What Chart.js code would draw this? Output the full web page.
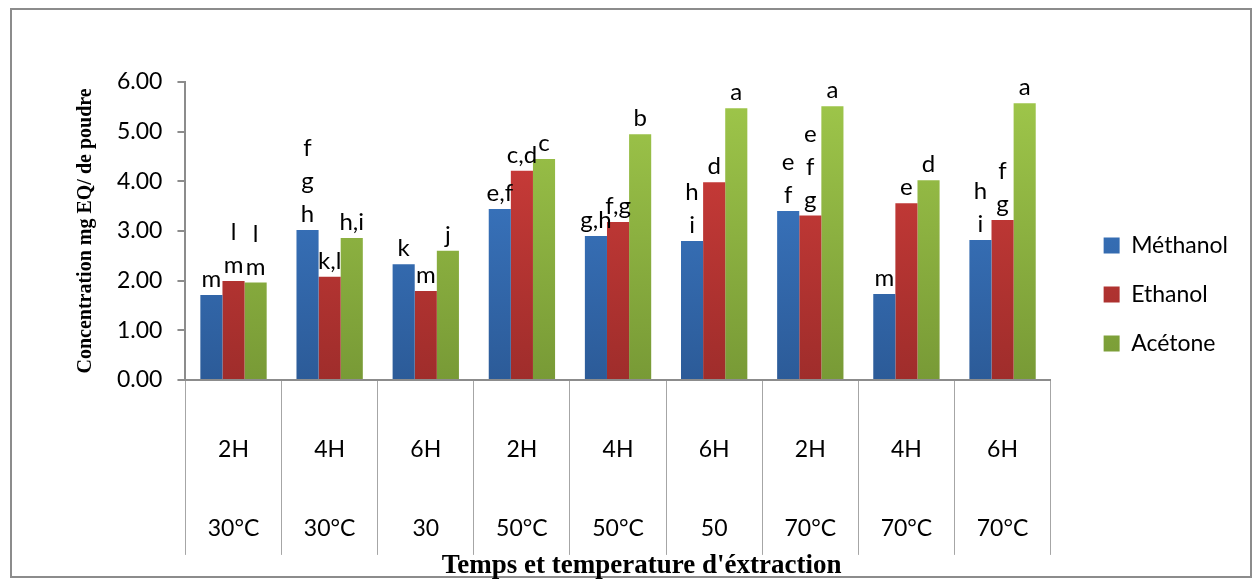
<!DOCTYPE html>
<html>
<head>
<meta charset="utf-8">
<script src="https://cdn.jsdelivr.net/npm/chart.js@4.4.0/dist/chart.umd.min.js"></script>
<style>
  html, body { margin: 0; padding: 0; background: #fff; }
  #wrap { position: relative; width: 1258px; height: 581px; }
</style>
</head>
<body>
<div id="wrap"><canvas id="concChart" width="1258" height="581"></canvas></div>
<script>
const ctx = document.getElementById('concChart');

// categories: time (row 1) and temperature (row 2)
const times = ['2H', '4H', '6H', '2H', '4H', '6H', '2H', '4H', '6H'];
const temps = ['30°C', '30°C', '30', '50°C', '50°C', '50', '70°C', '70°C', '70°C'];

const methanol = [1.71, 3.02, 2.33, 3.44, 2.90, 2.80, 3.40, 1.73, 2.82];
const ethanol  = [1.99, 2.08, 1.79, 4.21, 3.18, 3.98, 3.31, 3.56, 3.22];
const acetone  = [1.96, 2.86, 2.60, 4.45, 4.95, 5.47, 5.51, 4.02, 5.57];

// significance letters (stacked lines separated by \n)
const methanolLetters = ['m', 'f\ng\nh', 'k', 'e,f', 'g,h', 'h\ni', 'e\nf', 'm', 'h\ni'];
const ethanolLetters  = ['l\nm', 'k,l', 'm', 'c,d', 'f,g', 'd', 'e\nf\ng', 'e', 'f\ng'];
const acetoneLetters  = ['l\nm', 'h,i', 'j', 'c', 'b', 'a', 'a', 'd', 'a'];

const yTicks = [0, 1, 2, 3, 4, 5, 6];

const sansFont = 'Lato';
const serifFont = 'Liberation Serif';

function grad(top, bottom) {
    return function (context) {
        const area = context.chart.chartArea;
        if (!area) return top;
        const g = context.chart.ctx.createLinearGradient(0, area.bottom, 0, area.top);
        g.addColorStop(0, bottom);
        g.addColorStop(1, top);
        return g;
    };
}

const letterPlugin = {
    id: 'letters',
    afterDatasetsDraw(chart) {
        const c = chart.ctx;
        const sets = [methanolLetters, ethanolLetters, acetoneLetters];
        c.save();
        c.font = '24px ' + sansFont;
        c.fillStyle = '#000';
        c.textAlign = 'center';
        c.textBaseline = 'alphabetic';
        sets.forEach((letters, i) => {
            const meta = chart.getDatasetMeta(i);
            meta.data.forEach((bar, j) => {
                const lines = letters[j].split('\n');
                let y = bar.y - 8;
                for (let k = lines.length - 1; k >= 0; k--) {
                    c.fillText(lines[k], bar.x, y);
                    y -= 33;
                }
            });
        });
        c.restore();
    }
};

const framePlugin = {
    id: 'frame',
    beforeDraw(chart) {
        const c = chart.ctx;
        c.save();
        c.strokeStyle = '#8c8c8c';
        c.lineWidth = 2;
        c.strokeRect(11, 9, 1240, 568);
        c.restore();
    }
};

new Chart(ctx, {
    type: 'bar',
    data: {
        labels: times.map((t, i) => [t, temps[i]]),
        datasets: [{
            label: 'Méthanol',
            data: methanol,
            backgroundColor: grad('#3f80d0', '#2c5b98')
        }, {
            label: 'Ethanol',
            data: ethanol,
            backgroundColor: grad('#d53f3c', '#9f2d2b')
        }, {
            label: 'Acétone',
            data: acetone,
            backgroundColor: grad('#a0c84b', '#789a36')
        }]
    },
    options: {
        responsive: false,
        animation: false,
        layout: {
            padding: { left: 70, top: 8, right: 20, bottom: 0 }
        },
        datasets: {
            bar: { categoryPercentage: 0.69, barPercentage: 1.0 }
        },
        plugins: {
            // empty title only reserves the white band above the plot
            title: {
                display: true,
                text: '',
                font: { size: 10, lineHeight: 1 },
                padding: { top: 0, bottom: 64 }
            },
            legend: {
                position: 'right',
                labels: {
                    boxWidth: 16,
                    boxHeight: 16,
                    padding: 26,
                    color: '#000',
                    font: { family: sansFont, size: 23 }
                }
            },
            tooltip: { enabled: false }
        },
        scales: {
            x: {
                offset: true,
                border: { color: '#8c8c8c', width: 2 },
                grid: {
                    offset: true,
                    drawOnChartArea: false,
                    tickLength: 175,
                    color: '#a6a6a6'
                },
                ticks: {
                    padding: -144,
                    color: '#000',
                    maxRotation: 0,
                    font: { family: sansFont, size: 23, lineHeight: 3.4 }
                },
                title: {
                    display: true,
                    text: "       Temps et temperature d'éxtraction",
                    color: '#000',
                    padding: { top: 128, bottom: 0 },
                    font: { family: serifFont, size: 27, weight: 'bold', lineHeight: 1.1 }
                }
            },
            y: {
                min: 0,
                max: 6,
                afterBuildTicks(axis) {
                    axis.ticks = yTicks.map(v => ({ value: v }));
                },
                border: { color: '#8c8c8c', width: 2 },
                grid: {
                    drawOnChartArea: false,
                    tickLength: 8,
                    color: '#8c8c8c',
                    lineWidth: 2
                },
                ticks: {
                    padding: 15,
                    color: '#000',
                    font: { family: sansFont, size: 23 },
                    callback: v => Number(v).toFixed(2)
                },
                title: {
                    display: true,
                    text: 'Concentration mg EQ/ de poudre',
                    color: '#000',
                    font: { family: serifFont, size: 20, weight: 'bold', lineHeight: 1.2 }
                }
            },
            // blank spacer between plot and legend
            gap: {
                type: 'linear',
                position: 'right',
                display: true,
                grid: { display: false, drawTicks: false },
                border: { display: false },
                ticks: { display: false },
                afterFit(scale) { scale.width = 27; }
            }
        }
    },
    plugins: [letterPlugin, framePlugin]
});
</script>
</body>
</html>
